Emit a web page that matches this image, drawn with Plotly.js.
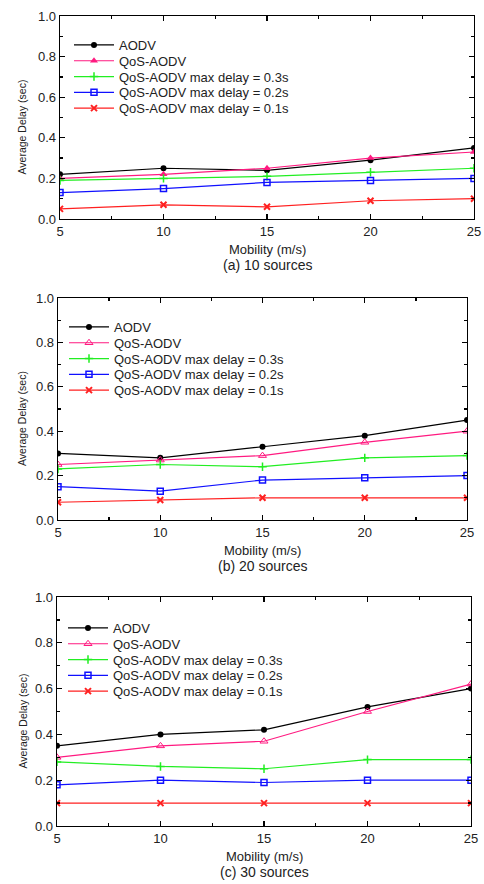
<!DOCTYPE html>
<html>
<head>
<meta charset="utf-8">
<script src="https://cdn.plot.ly/plotly-3.0.1.min.js"></script>
<style>html,body{margin:0;padding:0;background:#fff;}#chart{width:484px;height:884px;}</style>
</head>
<body>
<div id="chart"></div>
<script>
// Data
const mobility = [5, 10, 15, 20, 25];
const seriesNames = ["AODV", "QoS-AODV", "QoS-AODV max delay = 0.3s", "QoS-AODV max delay = 0.2s", "QoS-AODV max delay = 0.1s"];
const panelCaptions = ["(a) 10 sources", "(b) 20 sources", "(c) 30 sources"];
const xTitle = "Mobility (m/s)";
const yTitle = "Average Delay (sec)";
const yTickVals = [0, 0.2, 0.4, 0.6, 0.8, 1.0];
const xTickVals = [5, 10, 15, 20, 25];

// (a) 10 sources
const aodv10   = [0.22, 0.25, 0.24, 0.29, 0.35];
const qos10    = [0.20, 0.22, 0.25, 0.30, 0.33];
const qos03_10 = [0.19, 0.20, 0.21, 0.23, 0.25];
const qos02_10 = [0.13, 0.15, 0.18, 0.19, 0.20];
const qos01_10 = [0.05, 0.07, 0.06, 0.09, 0.10];
// (b) 20 sources
const aodv20   = [0.30, 0.28, 0.33, 0.38, 0.45];
const qos20    = [0.25, 0.27, 0.29, 0.35, 0.40];
const qos03_20 = [0.23, 0.25, 0.24, 0.28, 0.29];
const qos02_20 = [0.15, 0.13, 0.18, 0.19, 0.20];
const qos01_20 = [0.08, 0.09, 0.10, 0.10, 0.10];
// (c) 30 sources
const aodv30   = [0.35, 0.40, 0.42, 0.52, 0.60];
const qos30    = [0.30, 0.35, 0.37, 0.50, 0.62];
const qos03_30 = [0.28, 0.26, 0.25, 0.29, 0.29];
const qos02_30 = [0.18, 0.20, 0.19, 0.20, 0.20];
const qos01_30 = [0.10, 0.10, 0.10, 0.10, 0.10];

const panelsData = [
  [aodv10, qos10, qos03_10, qos02_10, qos01_10],
  [aodv20, qos20, qos03_20, qos02_20, qos01_20],
  [aodv30, qos30, qos03_30, qos02_30, qos01_30]
];

const colors = ["#000000", "#ff1a80", "#22ee22", "#1010ff", "#ff2020"];
const W = 484, H = 884;
// pixel boxes of each plot area [x0, x1, yTop, yBottom]
const boxes = [
  [60, 474, 16, 219],
  [58, 467, 298, 520],
  [57, 471, 597, 826]
];
const legendPos = [[69, 30], [64, 312], [63, 613]];
const legendSpacing = 15.8;

function markerFor(i, panel) {
  const c = colors[i];
  switch (i) {
    case 0: return {symbol: "circle", size: 6, color: c};
    case 1: return panel === 0 ? {symbol: "triangle-up", size: 7, color: c}
                               : {symbol: "triangle-up-open", size: 7, color: c, line: {width: 1, color: c}};
    case 2: return {symbol: "cross-thin", size: 6, color: c, line: {width: 1.5, color: c}};
    case 3: return {symbol: "square-open", size: 6, color: c, line: {width: 1.5, color: c}};
    default: return {symbol: "x-thin", size: 6, color: c, line: {width: 2, color: c}};
  }
}

const traces = [];
const layout = {
  width: W, height: H,
  margin: {l: 0, r: 0, t: 0, b: 0},
  paper_bgcolor: "#fff", plot_bgcolor: "#fff",
  font: {family: "Liberation Sans, Arial, sans-serif", size: 13, color: "#222"},
  showlegend: true,
  annotations: []
};

panelsData.forEach((series, p) => {
  const sfx = p === 0 ? "" : String(p + 1);
  const b = boxes[p];
  series.forEach((vals, i) => {
    traces.push({
      x: mobility, y: vals, name: seriesNames[i],
      type: "scatter", mode: "lines+markers",
      xaxis: "x" + sfx, yaxis: "y" + sfx,
      legend: "legend" + sfx,
      line: {color: colors[i], width: 1.2},
      marker: markerFor(i, p)
    });
  });
  const axCommon = {
    showline: true, linecolor: "#000", linewidth: 1.3, mirror: "allticks",
    ticks: "inside", ticklen: 5, tickwidth: 1.3, tickcolor: "#000",
    showgrid: false, zeroline: false,
    tickfont: {size: 13, color: "#222"},
    minor: {ticks: "inside", ticklen: 3, tickcolor: "#000", showgrid: false}
  };
  layout["xaxis" + sfx] = Object.assign({}, axCommon, {
    domain: [b[0] / W, b[1] / W], anchor: "y" + sfx,
    range: [5, 25], tickvals: xTickVals,
    minor: Object.assign({}, axCommon.minor, {dtick: 2.5, tick0: 5})
  });
  layout["yaxis" + sfx] = Object.assign({}, axCommon, {
    domain: [1 - b[3] / H, 1 - b[2] / H], anchor: "x" + sfx,
    range: [0, 1], tickvals: yTickVals, tickformat: ".1f",
    minor: Object.assign({}, axCommon.minor, {dtick: 0.1, tick0: 0})
  });
  layout["legend" + sfx] = {
    x: legendPos[p][0] / W, y: 1 - legendPos[p][1] / H,
    xanchor: "left", yanchor: "top", xref: "paper", yref: "paper",
    bgcolor: "rgba(0,0,0,0)", borderwidth: 0,
    font: {size: 13, color: "#222"}, itemwidth: 40, tracegroupgap: 0
  };
  layout.annotations.push({
    text: xTitle, xref: "paper", yref: "paper",
    x: (b[0] + b[1]) / 2 / W, y: 1 - (b[3] + 30) / H,
    xanchor: "center", yanchor: "middle", showarrow: false,
    font: {size: 13, color: "#222"}
  });
  layout.annotations.push({
    text: panelCaptions[p], xref: "paper", yref: "paper",
    x: (b[0] + b[1]) / 2 / W, y: 1 - (b[3] + 46) / H,
    xanchor: "center", yanchor: "middle", showarrow: false,
    font: {size: 14, color: "#222"}
  });
  layout.annotations.push({
    text: yTitle, xref: "paper", yref: "paper", textangle: -90,
    x: 22 / W, y: 1 - ((b[2] + b[3]) / 2 + 10) / H,
    xanchor: "center", yanchor: "middle", showarrow: false,
    font: {size: 10.5, color: "#222"}
  });
});

Plotly.newPlot("chart", traces, layout, {displayModeBar: false, staticPlot: true}).then(gd => {
  // tighten legend row spacing to match the reference
  gd.querySelectorAll(".infolayer > g").forEach(lg => {
    const cls = lg.getAttribute("class") || "";
    if (!/^legend\d*$/.test(cls)) return;
    const items = lg.querySelectorAll("g.traces");
    if (!items.length) return;
    const m = /translate\(([-\d.]+)[ ,]+([-\d.]+)\)/.exec(items[0].getAttribute("transform") || "");
    if (!m) return;
    const x0 = parseFloat(m[1]), y0 = parseFloat(m[2]);
    items.forEach((it, i) => it.setAttribute("transform", "translate(" + x0 + "," + (y0 + i * legendSpacing) + ")"));
  });
});
</script>
</body>
</html>
